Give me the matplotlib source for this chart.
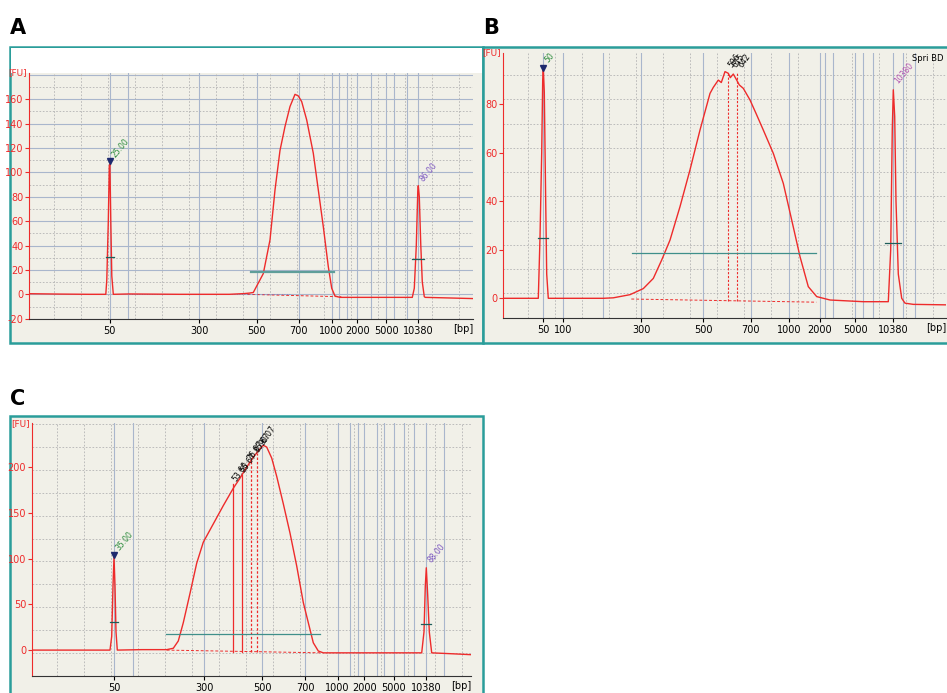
import matplotlib.pyplot as plt
import matplotlib.patches as patches
import numpy as np

# ---- data (x = migration position, y = fluorescence [FU]) ----
# Panel A
a_x = [0, 30, 60, 76.5, 77.5, 79.0, 80.0, 80.6, 81.5, 82.5, 84, 100, 150, 200, 215, 220,
       224, 234, 240.7, 245.7, 250.7, 255.7, 260.7, 265.7, 269, 272.4, 277.4, 284, 289,
       294, 299, 302.4, 305.7, 310.7, 350, 380, 383, 385, 387, 388.5, 389, 390, 391.5,
       393, 395, 396, 420, 444]
a_y = [0.5, 0.2, 0, 0, 12, 60, 105, 107, 60, 15, 0, 0.3, 0, 0, 0.6, 1.0,
       1.5, 17, 44.6, 85.6, 118, 137.6, 154, 164, 162.7, 158, 143, 115.7, 85.6,
       55.5, 22.7, 5, -1.4, -2.5, -2.5, -2.5, -2.5, 5, 40, 85, 89, 80, 40,
       10, -2, -2.5, -3, -3.5]
a_ticks = [80.4, 170, 227.4, 269.4, 302.4, 328, 356.7, 389]
a_ticklabels = ["50", "300", "500", "700", "1000", "2000", "5000", "10380"]

# Panel B
b_x = [0, 20, 35.0, 36.7, 38.4, 39.4, 40, 41, 42.4, 43.4, 45, 60, 100, 110, 126.7, 140,
       150, 158.4, 166.7, 176.7, 186.7, 196.7, 206.7, 210, 215, 218, 221.7, 225, 227,
       230, 233.4, 236, 240, 246.7, 253, 260, 270, 280, 288.4, 296.7, 305, 313.4,
       326.7, 360, 383.4, 385, 387.4, 389, 390, 391.4, 392.7, 395, 398.4, 401.7, 410,
       443]
b_y = [0, 0, 0, 25, 60, 90, 95, 85, 40, 10, 0, 0, 0, 0.2, 1.5, 4,
       8.2, 15.8, 24, 37.8, 53, 69.4, 84.5, 87, 90, 89, 93.5, 92.8, 91,
       92.5, 90, 88, 86.6, 81.8, 76, 69.4, 59.8, 47.4, 32.3, 17.2, 4.8, 0.7,
       -0.7, -1.4, -1.4, -1.4, 20, 70, 86, 75, 40, 10, 0, -2, -2.5,
       -2.7]
b_ticks = [40, 60, 137.7, 200, 247.4, 286, 316.7, 351.7, 390]
b_ticklabels = ["50", "100", "300", "500", "700", "1000", "2000", "5000", "10380"]

# Panel C
c_x = [0, 40, 78.3, 80, 81.3, 82.3, 83.3, 84.3, 85.6, 110, 135, 141.6, 146.6, 151.6,
       158.3, 165, 171.6, 181.6, 191.6, 201.6, 208.3, 215, 221.6, 228.3, 231.6, 235,
       240, 245, 251.6, 258.3, 265, 271.6, 276.6, 281.6, 286.6, 291.6, 350, 390,
       392.3, 393.6, 394.6, 396, 397.6, 400, 420, 439]
c_y = [0, 0, 0, 15, 70, 102, 70, 20, 0, 0.5, 0.5, 2, 10, 30,
       62, 95, 118, 138, 158, 177, 188, 200, 211, 220, 224, 222,
       210, 190, 160, 128, 92, 52, 30, 8, -1, -3, -3, -3,
       20, 70, 90, 60, 20, -3, -4, -5]
c_ticks = [82.3, 172.3, 230.6, 273.3, 306, 332.6, 362, 394.3]
c_ticklabels = ["50", "300", "500", "700", "1000", "2000", "5000", "10380"]

RED = "#ee2b2b"
TEAL = "#2a9d9a"
GRIDB = "#a9b6cc"
GRIDD = "#b4b4b4"
BG = "#f1f0e8"

fig = plt.figure(figsize=(9.47, 6.93), dpi=100)


def fx(px):
    return px / 947


def fy(py):
    return 1 - py / 693


def frame(x0, y0, x1, y1, white_top=None):
    r = patches.Rectangle((fx(x0), fy(y1)), fx(x1 - x0), (y1 - y0) / 693,
                          transform=fig.transFigure, facecolor=BG, edgecolor=TEAL,
                          linewidth=1.8, zorder=0)
    fig.add_artist(r)
    if white_top:
        w = patches.Rectangle((fx(x0 + 1), fy(white_top)), fx(x1 - x0 - 2),
                              (white_top - y0 - 1) / 693, transform=fig.transFigure,
                              facecolor="white", edgecolor="none", zorder=0)
        fig.add_artist(w)


def panel(rect, xs, ys, xlim, ylim, yticks, ticks, ticklabels, ymaj, extra_solid):
    ax = fig.add_axes(rect)
    ax.set_facecolor(BG)
    ax.set_xlim(*xlim)
    ax.set_ylim(*ylim)
    # grid
    for v in np.arange(ylim[0], ylim[1], ymaj / 2):
        if abs(round(v / ymaj) * ymaj - v) < 1e-6:
            ax.axhline(v, color=GRIDB, lw=0.8, zorder=1)
        else:
            ax.axhline(v, color=GRIDD, lw=0.6, ls=(0, (2, 2)), zorder=1)
    for v in np.arange(xlim[0] + 25, xlim[1], 27):
        ax.axvline(v, color=GRIDD, lw=0.6, ls=(0, (2, 2)), zorder=1)
    for v in list(ticks) + extra_solid:
        ax.axvline(v, color=GRIDB, lw=0.8, zorder=1)
    ax.plot(xs, ys, color=RED, lw=1.0, zorder=4)
    ax.set_yticks(yticks)
    ax.set_yticklabels([str(t) for t in yticks], color=RED, fontsize=7)
    ax.set_xticks(ticks)
    ax.set_xticklabels(ticklabels, fontsize=7)
    ax.tick_params(axis="y", length=3, color=RED, pad=1)
    ax.tick_params(axis="x", length=3, pad=2)
    ax.spines["left"].set_color(RED)
    ax.spines["bottom"].set_color("#333333")
    ax.spines["top"].set_visible(False)
    ax.spines["right"].set_visible(False)
    ax.text(-0.005, 1.0, "[FU]", transform=ax.transAxes, color=RED, fontsize=6.5,
            ha="right", va="center")
    ax.annotate("[bp]", xy=(1.0, 0), xycoords="axes fraction", xytext=(0, -7.5),
                textcoords="offset points", fontsize=7, ha="right", va="center")
    return ax


def peak_marks(ax, xpk, ytop, lbl, lcol, dy, tick_y, tick_w, tri=True):
    if tri:
        ax.plot([xpk], [ytop], marker="v", color="#1e2a6e", ms=5, zorder=6)
    ax.text(xpk, ytop + dy, lbl, color=lcol, fontsize=5.5, rotation=50,
            ha="left", va="bottom", zorder=6)
    ax.plot([xpk - tick_w, xpk + tick_w], [tick_y, tick_y], color="#1e5e5a", lw=0.9, zorder=5)


# ---------------- Panel A ----------------
frame(10, 47, 483, 343, white_top=73)
ax = panel([fx(29.3), fy(318.7), fx(443.7), (318.7 - 73) / 693], a_x, a_y,
           (0, 443.7), (-20, 181.5), [-20, 0, 20, 40, 60, 80, 100, 120, 140, 160],
           a_ticks, a_ticklabels, 20, [99, 310, 318, 342, 365, 378])
peak_marks(ax, 80.4, 109, "25.00", "#2a8a3a", 2, 31, 4)
peak_marks(ax, 389, 90, "86.00", "#7a55c0", 1, 29, 6, tri=False)
ax.plot([222, 305], [18.5, 18.5], color="#5f9e9a", lw=1.6, zorder=5)
ax.plot([218, 312], [0, -2], color=RED, lw=0.7, ls=(0, (3, 2)), zorder=3)
ax.plot([100, 262], [0, 0], color="#6a7fd0", lw=0.6, ls=(0, (1, 2)), zorder=3)

# ---------------- Panel B ----------------
frame(483, 47, 960, 343)
ax = panel([fx(503.3), fy(317.7), fx(442.7), 265 / 693], b_x, b_y,
           (0, 442.7), (-8, 101.3), [0, 20, 40, 60, 80],
           b_ticks, b_ticklabels, 20, [100, 322, 330, 360, 370, 400, 412])
peak_marks(ax, 40, 95, "50", "#2a8a3a", 1.5, 25, 5)
peak_marks(ax, 390, 87, "10380", "#b050b0", 1, 23, 8, tri=False)
for xp, lbl in [(223.5, "596"), (227.5, "615"), (233.4, "642")]:
    ax.text(xp, 94.5, lbl, fontsize=5.5, rotation=55, ha="left", va="bottom", zorder=6)
for xp in [224.4, 233.4]:
    ax.plot([xp, xp], [-1, 93], color=RED, lw=0.8, ls=(0, (2, 1.5)), zorder=3)
ax.plot([128.4, 312.7], [18.8, 18.8], color="#3f8f8a", lw=0.9, zorder=5)
ax.plot([128, 313], [-0.3, -1.6], color=RED, lw=0.7, ls=(0, (3, 2)), zorder=3)
ax.text(0.995, 0.995, "Spri BD", transform=ax.transAxes, fontsize=6,
        ha="right", va="top", zorder=7)

# ---------------- Panel C ----------------
frame(10, 416, 483, 700)
ax = panel([fx(31.7), fy(675.7), fx(439.3), 252.4 / 693], c_x, c_y,
           (0, 439.3), (-28, 248), [0, 50, 100, 150, 200],
           c_ticks, c_ticklabels, 50, [101, 318, 326, 345, 352, 372, 382, 412])
peak_marks(ax, 82.3, 104, "35.00", "#2a8a3a", 3, 31, 4)
peak_marks(ax, 394.6, 90, "88.00", "#7a55c0", 4, 28, 5, tri=False)
for xp, top, ls in [(201.6, 182, "-"), (210, 192, "-"), (219, 208, (0, (2, 1.5))),
                    (225, 216, (0, (2, 1.5)))]:
    ax.plot([xp, xp], [-2, top], color=RED, lw=0.9, ls=ls, zorder=3)
for xp, yp, lbl in [(199, 183, "53.60"), (207, 192, "55.67"), (214, 205, "76.67"),
                    (221, 214, "85.67"), (226, 222, "90.07")]:
    ax.text(xp, yp, lbl, fontsize=5.5, rotation=55, ha="left", va="bottom", zorder=6)
ax.plot([134, 288.3], [17.9, 17.9], color="#3f8f8a", lw=0.9, zorder=5)
ax.plot([135, 290], [0, -3], color=RED, lw=0.7, ls=(0, (3, 2)), zorder=3)

# panel letters
for px, py, s in [(10, 28, "A"), (483, 28, "B"), (10, 399, "C")]:
    fig.text(fx(px), fy(py), s, fontsize=15, fontweight="bold", ha="left", va="center",
             family="DejaVu Sans")

fig.savefig("out.png", dpi=100)
